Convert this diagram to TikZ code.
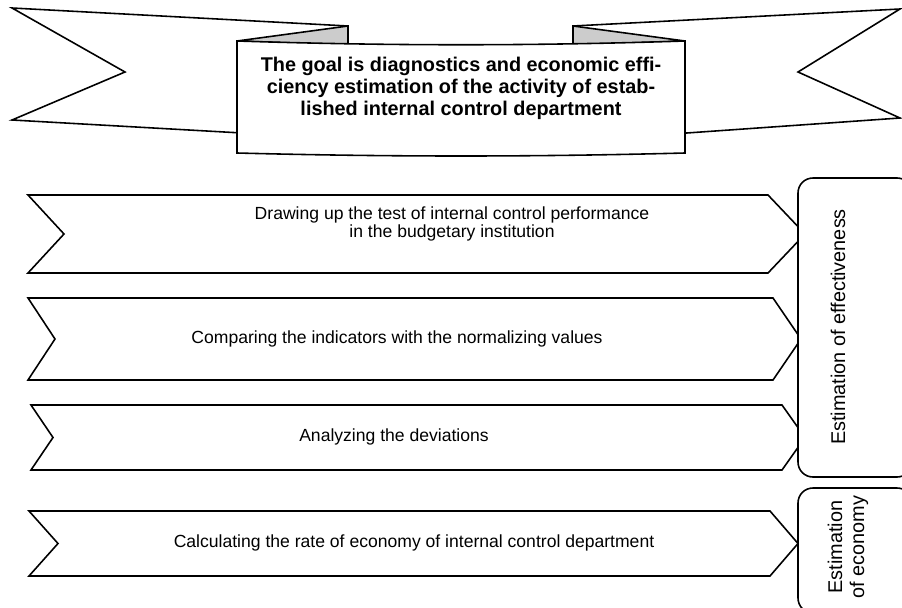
\documentclass[tikz,border=0pt]{standalone}
\usepackage{fontspec}
\setmainfont{Liberation Sans}
\usepackage{tikz}
\usetikzlibrary{positioning}

\begin{document}
\begin{tikzpicture}[x=0.02cm,y=-0.02cm,line width=0.9pt,
  band/.style={draw=black, fill=white},
  flap/.style={draw=black, fill=gray!40},
  goaltext/.style={font=\bfseries\fontsize{11.3}{12.5}\selectfont, align=center, inner sep=0pt},
  steptext/.style={font=\fontsize{10}{10.5}\selectfont, align=center, inner sep=0pt},
  sidebox/.style={draw=black, fill=white, rounded corners=8.5pt},
  sidetext/.style={font=\fontsize{11.3}{12.5}\selectfont, align=center, rotate=90, inner sep=0pt}]

 \useasboundingbox (0,0) rectangle (902,608);

 % ribbon
 \draw[band] (12,8) -- (348,26) -- (348,139) -- (12,120) -- (125,72) -- cycle;
 \draw[band] (900,9) -- (573,26) -- (573,141) -- (900,118) -- (798,72) -- cycle;
 \draw[flap] (237,41) -- (348,26) -- (348,45) -- cycle;
 \draw[flap] (685,41) -- (573,26) -- (573,45) -- cycle;
 \draw[band] (237,41) .. controls (390,46) and (532,46) .. (685,41) -- (685,153)
   .. controls (532,157) and (390,157) .. (237,153) -- cycle;
 \node[goaltext] (goal) at (461,88)
   {The goal is diagnostics and economic effi-\\ciency estimation of the activity of estab-\\lished internal control department};

 % steps
 \foreach \t/\b/\l/\n/\r/\p in {195/273/28/64/768/805, 298/380/28/55/773/801,
                                 405/470/31/53/782/805, 511/576/29/58/770/798}
 {
   \draw[band] (\l,\t) -- (\r,\t) -- (\p,{(\t+\b)/2}) -- (\r,\b) -- (\l,\b)
     -- (\n,{(\t+\b)/2}) -- cycle;
 }

 \node[steptext] (test) at (452,224)
   {Drawing up the test of internal control performance\\in the budgetary institution};
 \node[steptext] (compare) at (397,339) {Comparing the indicators with the normalizing values};
 \node[steptext] (deviate) at (394,437) {Analyzing the deviations};
 \node[steptext] (rate) at (414,543) {Calculating the rate of economy of internal control department};

 % estimations
 \draw[sidebox] (798,178) rectangle (912,477);
 \draw[sidebox] (798,488) rectangle (912,613);
 \node[sidetext] (effect) at (838,327) {Estimation of effectiveness};
 \node[sidetext] (economy) at (848,547) {Estimation\\of economy};
\end{tikzpicture}
\end{document}
